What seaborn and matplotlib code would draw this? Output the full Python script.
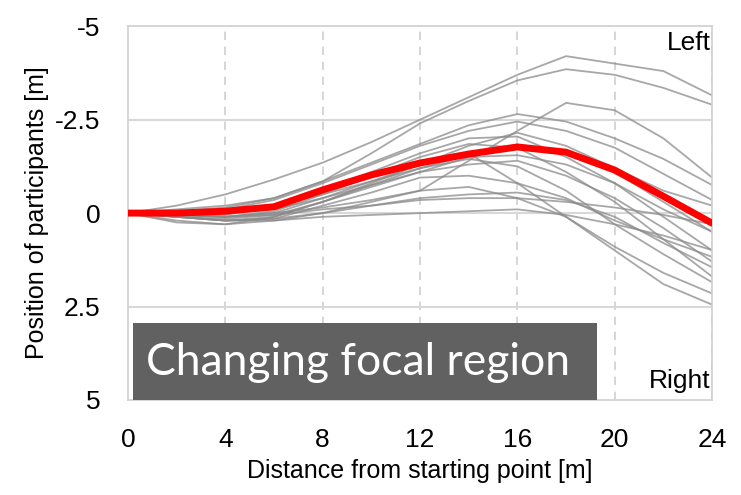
import pandas as pd
import seaborn as sns
import matplotlib.pyplot as plt
from matplotlib.patches import Rectangle

# distance from starting point [m]
distance = [0, 2, 4, 6, 8, 10, 12, 14, 16, 18, 20, 22, 24]

# lateral position of each participant [m] (negative = left)
p01 = [0, -0.2, -0.5, -0.9, -1.35, -1.9, -2.5, -3.1, -3.7, -4.2, -4.0, -3.8, -3.15]
p02 = [0, -0.1, -0.2, -0.4, -0.85, -1.6, -2.4, -3.0, -3.55, -3.85, -3.7, -3.35, -2.9]
p03 = [0, 0.05, 0.1, 0.0, -0.15, -0.35, -0.6, -1.4, -2.2, -2.95, -2.75, -2.0, -0.95]
p04 = [0, -0.05, -0.15, -0.4, -0.85, -1.35, -1.85, -2.35, -2.65, -2.45, -2.0, -1.45, -0.75]
p05 = [0, -0.05, -0.1, -0.35, -0.8, -1.3, -1.8, -2.2, -2.45, -2.2, -1.75, -1.05, -0.35]
p06 = [0, 0.1, 0.2, 0.1, -0.3, -0.8, -1.3, -1.8, -2.15, -1.8, -1.2, -0.6, -0.2]
p07 = [0, 0.05, 0.05, -0.2, -0.6, -1.1, -1.6, -2.0, -2.05, -1.5, -0.8, 0.1, 1.0]
p08 = [0, 0.05, 0.1, -0.05, -0.5, -1.0, -1.5, -1.85, -1.75, -1.1, -0.3, 0.7, 1.7]
p09 = [0, 0.1, 0.15, 0.05, -0.3, -0.7, -1.1, -1.5, -1.55, -1.3, -0.8, -0.1, 0.5]
p10 = [0, 0.2, 0.3, 0.1, -0.3, -0.75, -1.2, -1.45, -1.25, -0.6, 0.3, 1.1, 1.85]
p11 = [0, 0.05, 0.1, 0.0, -0.4, -0.85, -1.3, -1.6, -0.8, 0.1, 0.9, 1.6, 2.15]
p12 = [0, 0.1, 0.2, 0.15, -0.2, -0.55, -0.95, -1.0, -0.8, -0.4, 0.2, 0.7, 1.17]
p13 = [0, 0.25, 0.3, 0.2, 0.0, -0.3, -0.6, -0.7, -0.4, 0.1, 1.0, 1.9, 2.45]
p14 = [0, 0.1, 0.2, 0.15, 0.0, -0.2, -0.4, -0.5, -0.55, -0.35, 0.1, 0.8, 1.45]
p15 = [0, 0.1, 0.2, 0.2, 0.1, 0.05, 0.0, -0.05, -0.1, 0.05, 0.3, 0.6, 0.99]
p16 = [0, 0.05, 0.1, 0.05, -0.1, -0.2, -0.35, -0.4, -0.4, -0.3, -0.15, 0.05, 0.3]
p17 = [0, 0.0, -0.05, -0.2, -0.5, -0.85, -1.2, -1.55, -1.8, -1.6, -1.1, -0.3, 0.5]
p18 = [0, 0.0, 0.0, -0.1, -0.4, -0.75, -1.1, -1.3, -1.4, -1.0, -0.4, 0.4, 1.3]
participants = [p01, p02, p03, p04, p05, p06, p07, p08, p09,
                p10, p11, p12, p13, p14, p15, p16, p17, p18]

# mean trajectory (red)
mean_pos = [0, 0.0, -0.05, -0.17, -0.62, -1.02, -1.34, -1.58, -1.77, -1.63, -1.15, -0.45, 0.27]

rows = []
for i, vals in enumerate(participants):
    for d, v in zip(distance, vals):
        rows.append({'participant': i, 'distance': d, 'position': v})
df = pd.DataFrame(rows)
df_mean = pd.DataFrame({'distance': distance, 'position': mean_pos})

sns.set_style("white")
plt.rcParams['font.family'] = ['Liberation Sans', 'DejaVu Sans']
plt.rcParams['text.color'] = 'black'
plt.rcParams['axes.labelcolor'] = 'black'
plt.rcParams['xtick.color'] = 'black'
plt.rcParams['ytick.color'] = 'black'

fig = plt.figure(figsize=(7.41, 4.95), dpi=100)
ax = fig.add_axes([0.1727, 0.192, 0.961 - 0.1727, 0.947 - 0.192])

sns.lineplot(data=df, x='distance', y='position', units='participant',
             estimator=None, color='#8a8a8a', alpha=0.75, linewidth=1.3, ax=ax)
sns.lineplot(data=df_mean, x='distance', y='position', color='#ff0000',
             linewidth=5, ax=ax, zorder=5)

ax.set_xlim(0, 24)
ax.set_ylim(5, -5)
ax.set_xticks([0, 4, 8, 12, 16, 20, 24])
ax.set_yticks([-5, -2.5, 0, 2.5, 5])
ax.set_yticklabels(['-5', '-2.5', '0', '2.5', '5'])
ax.tick_params(labelsize=19, length=0, pad=20)

for x in [4, 8, 12, 16, 20, 24]:
    ax.axvline(x, color='#d0d0d0', linestyle=(0, (5, 4)), linewidth=1.2, zorder=0)
for y in [-2.5, 0, 2.5]:
    ax.axhline(y, color='#d8d8d8', linewidth=1.5, zorder=0)
for s in ax.spines.values():
    s.set_color('#d0d0d0')
    s.set_linewidth(1.2)

ax.set_xlabel('Distance from starting point [m]', fontsize=18, labelpad=5)
ax.set_ylabel('Position of participants [m]', fontsize=18, labelpad=4)

ax.text(23.95, -4.55, 'Left', fontsize=19, ha='right', va='center')
ax.text(23.95, 4.5, 'Right', fontsize=19, ha='right', va='center')

# dark overlay box with caption
x0, x1 = 133 / 741, 597 / 741
y0, y1 = 1 - 400 / 495, 1 - 323 / 495
fig.patches.append(Rectangle((x0, y0), x1 - x0, y1 - y0, transform=fig.transFigure,
                             facecolor='#616161', edgecolor='none', zorder=10))
fig.text((x0 + x1) / 2 - 0.01, (y0 + y1) / 2 - 0.003, 'Changing focal region',
         fontsize=32, color='white', ha='center', va='center',
         family=['Lato', 'DejaVu Sans'], zorder=11)

fig.savefig('out.png', dpi=100)
